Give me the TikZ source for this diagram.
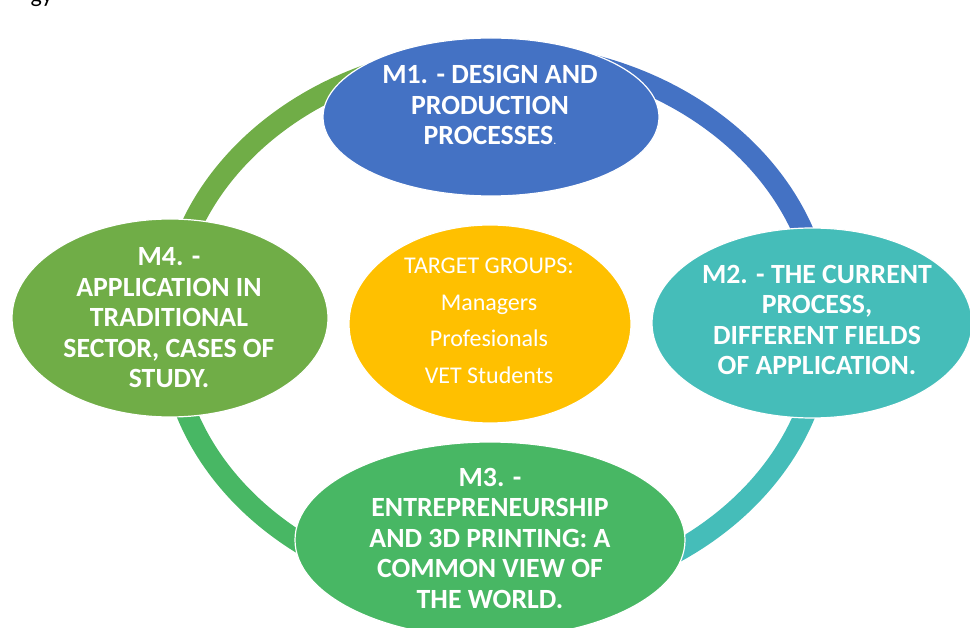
\documentclass[tikz,border=0pt]{standalone}
\usepackage{fontspec}
\setmainfont{Carlito}
\usetikzlibrary{shapes.geometric}
\definecolor{zzttff}{rgb}{0.26666666666666666,0.4470588235294118,0.7686274509803922}
\definecolor{qqccbb}{rgb}{0.27058823529411763,0.7411764705882353,0.7254901960784313}
\definecolor{wwbbqq}{rgb}{0.2823529411764706,0.7176470588235294,0.39215686274509803}
\definecolor{ttaass}{rgb}{0.4392156862745098,0.6784313725490196,0.2784313725490196}
\definecolor{ffcqqq}{rgb}{1.,0.7529411764705882,0.}
\tikzset{
  module/.style={ellipse,draw=white,line width=1.2pt,inner sep=0pt},
  ring/.style={line width=21pt,line cap=butt},
  title/.style={text=white,align=center,font=\fontsize{27.8}{30.5}\selectfont\bfseries},
  group/.style={text=white,align=center,font=\fontsize{24}{36.5}\selectfont}
}
\begin{document}
\begin{tikzpicture}[line cap=round,line join=round,x=1pt,y=-1pt]
\clip (0,0) rectangle (970,628);
\node[anchor=base west,font=\fontsize{24}{24}\selectfont] (frag) at (27,3) {gy};
\coordinate (hub) at (496,325);
% ring: one quarter for each module
\draw[ring,color=ttaass] ([shift={(180:327 and 272)}]hub) arc[start angle=180,end angle=270,x radius=327,y radius=272];
\draw[ring,color=zzttff] ([shift={(270:327 and 272)}]hub) arc[start angle=270,end angle=360,x radius=327,y radius=272];
\draw[ring,color=qqccbb] ([shift={(0:327 and 272)}]hub) arc[start angle=0,end angle=90,x radius=327,y radius=272];
\draw[ring,color=wwbbqq] ([shift={(90:327 and 272)}]hub) arc[start angle=90,end angle=180,x radius=327,y radius=272];
% modules
\node[module,fill=zzttff,minimum width=336,minimum height=158] (m1) at (491,117) {};
\node[module,fill=qqccbb,minimum width=320,minimum height=190] (m2) at (812,323) {};
\node[module,fill=wwbbqq,minimum width=390,minimum height=196] (m3) at (490,540) {};
\node[module,fill=ttaass,minimum width=316,minimum height=198] (m4) at (170,318) {};
\node[module,fill=ffcqqq,minimum width=282,minimum height=198] (tg) at (490,324) {};
\node[title] (t1) at (490,105) {M1. - DESIGN AND\\PRODUCTION\\PROCESSES{\mdseries\fontsize{12}{12}\selectfont.}};
\node[title] (t2) at (817,320) {M2. - THE CURRENT\\PROCESS,\\DIFFERENT FIELDS\\OF APPLICATION.};
\node[title] (t3) at (490,538) {M3. -\\ENTREPRENEURSHIP\\AND 3D PRINTING: A\\COMMON VIEW OF\\THE WORLD.};
\node[title] (t4) at (169,318) {M4. -\\APPLICATION IN\\TRADITIONAL\\SECTOR, CASES OF\\STUDY.};
\node[group] (tgt) at (489,321) {TARGET GROUPS:\\Managers\\Profesionals\\VET Students};
\end{tikzpicture}
\end{document}
